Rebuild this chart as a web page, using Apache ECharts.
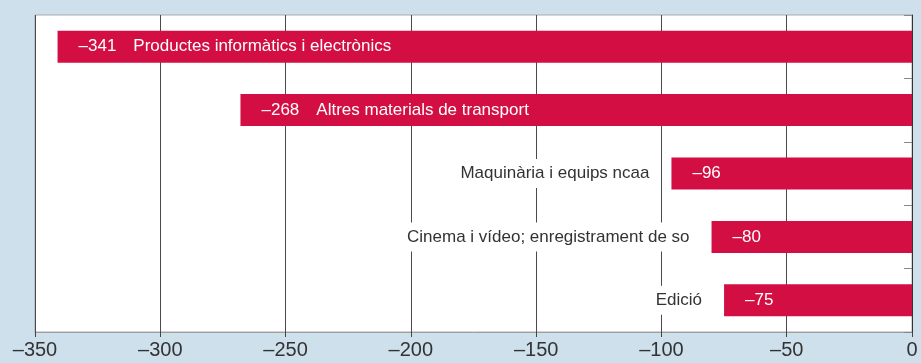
<!DOCTYPE html>
<html lang="ca">
<head>
  <meta charset="UTF-8">
  <title>Balança per productes</title>
  <style>
    html, body { margin: 0; padding: 0; background: #cde0ec; }
    #chart { width: 921px; height: 363px; }
  </style>
</head>
<body>
  <div id="chart"></div>
  <script src="https://cdn.jsdelivr.net/npm/echarts@6/dist/echarts.min.js"></script>
  <script>
    // dades
    var categories = [
      'Productes informàtics i electrònics',
      'Altres materials de transport',
      'Maquinària i equips ncaa',
      'Cinema i vídeo; enregistrament de so',
      'Edició'
    ]
    var values = [-341, -268, -96, -80, -75]
    var xTicks = [-350, -300, -250, -200, -150, -100, -50, 0]

    var FONT = '"Liberation Sans", Arial, sans-serif'
    var RED = '#d30e43'

    function fmt(v) {
      return v < 0 ? '\u2013' + Math.abs(v) : String(v)
    }
    // barres llargues: el nom va dins la barra
    function nameInside(v) { return v < -200 }

    var chart = echarts.init(document.getElementById('chart'))

    chart.setOption({
      backgroundColor: '#cde0ec',
      animation: false,
      grid: {
        left: 35, right: 9, top: 15, bottom: 31,
        show: true, backgroundColor: '#fff',
        borderColor: '#a9a9a9', borderWidth: 1
      },
      xAxis: {
        type: 'value',
        min: xTicks[0], max: xTicks[xTicks.length - 1], interval: 50,
        axisLine: { show: true, lineStyle: { color: '#a0a0a0', width: 1 } },
        axisTick: { show: true, length: 5, lineStyle: { color: '#444' } },
        splitLine: { show: true, lineStyle: { color: '#4a4a4a', width: 1 } },
        axisLabel: {
          formatter: fmt, color: '#333', fontSize: 20, margin: 8,
          fontFamily: FONT
        }
      },
      yAxis: {
        type: 'category',
        data: categories,
        inverse: true,
        position: 'right',
        axisLine: { show: true, lineStyle: { color: '#333', width: 1 } },
        axisTick: { show: true, inside: true, length: 8, lineStyle: { color: '#888' } },
        axisLabel: { show: false },
        splitLine: { show: false }
      },
      series: [
        {
          type: 'bar',
          barWidth: 32,
          silent: true,
          itemStyle: { color: RED },
          data: values,
          label: {
            show: true,
            position: 'insideLeft',
            distance: 21,
            color: '#fff',
            fontFamily: FONT,
            fontSize: 17,
            formatter: function (p) {
              if (nameInside(p.value)) {
                return '{v|' + fmt(p.value) + '}{c|' + p.name + '}'
              }
              return '{v|' + fmt(p.value) + '}'
            },
            rich: {
              v: { color: '#fff', fontSize: 17, fontFamily: FONT },
              c: { color: '#fff', fontSize: 17, fontFamily: FONT, padding: [0, 0, 0, 17] }
            }
          },
          z: 3
        },
        {
          // capa transparent per posar el nom a l'esquerra de les barres curtes
          type: 'bar',
          barWidth: 32,
          barGap: '-100%',
          silent: true,
          itemStyle: { color: 'rgba(0,0,0,0)' },
          data: values.map(function (v) {
            return { value: v, label: { show: !nameInside(v) } }
          }),
          label: {
            show: true,
            position: 'left',
            distance: 19,
            color: '#333',
            fontFamily: FONT,
            fontSize: 17,
            backgroundColor: '#fff',
            padding: [6, 3],
            formatter: function (p) { return p.name }
          },
          z: 2
        }
      ]
    })
  </script>
</body>
</html>
